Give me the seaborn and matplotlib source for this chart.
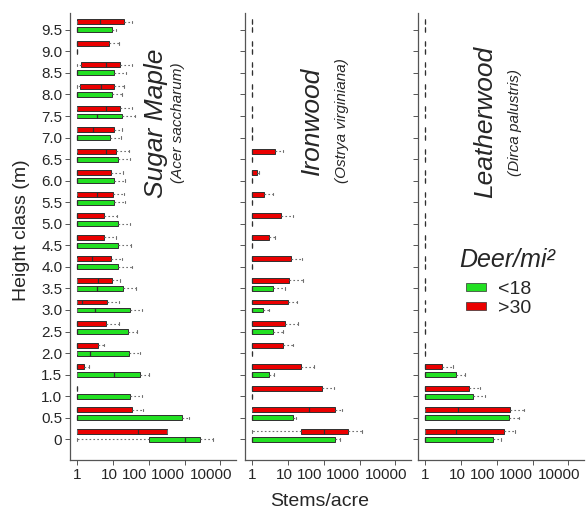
import pandas as pd
import numpy as np
import seaborn as sns
import matplotlib.pyplot as plt
from matplotlib.patches import Patch
from matplotlib.transforms import ScaledTranslation

# height classes (m), bottom to top
heights = [0.0, 0.5, 1.0, 1.5, 2.0, 2.5, 3.0, 3.5, 4.0, 4.5,
           5.0, 5.5, 6.0, 6.5, 7.0, 7.5, 8.0, 8.5, 9.0, 9.5]
height_labels = ["0", "0.5", "1.0", "1.5", "2.0", "2.5", "3.0", "3.5", "4.0", "4.5",
                 "5.0", "5.5", "6.0", "6.5", "7.0", "7.5", "8.0", "8.5", "9.0", "9.5"]

# per height class: (min, q1, median, q3, max) stems/acre, 1 = none
EMPTY = (1, 1, 1, 1, 1)

maple_low = [(1, 104, 1000, 2700, 6300), (1, 1, 1, 845, 1370), (1, 1, 1, 30, 65),
             (1, 1, 10.7, 59, 100), (1, 1, 2.4, 28, 56), (1, 1, 1, 27, 49),
             (1, 1, 3.3, 30, 65), (1, 1, 3.7, 19, 45), (1, 1, 1, 14, 34),
             (1, 1, 1, 14, 32), (1, 1, 1, 14, 30), (1, 1, 1, 11, 22),
             (1, 1, 1, 11, 22), (1, 1, 1, 14, 30), (1, 1, 1, 8.3, 17),
             (1, 1, 3.7, 18, 42), (1, 1, 1, 9.6, 18), (1, 1, 1, 11, 24),
             EMPTY, (1, 1, 1, 9.6, 12)]
maple_high = [(1, 1, 52, 335, 335), (1, 1, 1, 34, 72), EMPTY,
              (1, 1, 1, 1.6, 2.2), (1, 1, 1, 3.8, 5.9), (1, 1, 1, 6.5, 15),
              (1, 1, 1.4, 7.1, 15), (1, 1, 3.8, 9.4, 16), (1, 1, 2.7, 8.8, 18),
              (1, 1, 1, 5.9, 12.6), (1, 1, 1, 5.7, 13), (1, 1, 3.7, 10, 21),
              (1, 1, 1, 8.8, 20), (1, 1, 6.7, 12.6, 28), (1, 1, 2.8, 10.7, 18),
              (1, 1, 6.7, 15.6, 34), (1, 1.26, 4.8, 11.2, 21), (1, 1.35, 6.7, 15.6, 34),
              (1, 1, 1, 7.7, 14.7), (1, 1, 4.5, 21, 34)]

ironwood_low = [(1, 1, 1, 211, 280), (1, 1, 1, 14.5, 17), EMPTY,
                (1, 1, 1, 3.1, 4.3), EMPTY, (1, 1, 1, 3.8, 7.6),
                (1, 1, 1, 2.0, 3.1), (1, 1, 1, 4.0, 8.5)] + [EMPTY] * 12
ironwood_high = [(1, 24, 100, 470, 1160), (1, 1, 38, 211, 325), (1, 1, 1, 90, 190),
                 (1, 1, 1, 23, 55), (1, 1, 1, 7.3, 14), (1, 1, 1, 8.5, 19),
                 (1, 1, 1, 9.9, 18), (1, 1, 1, 10.6, 26.5), (1, 1, 1, 12.3, 25),
                 (1, 1, 1, 3.1, 4.5), (1, 1, 1, 6.45, 14.5), (1, 1, 1, 2.26, 3.85),
                 (1, 1, 1, 1.44, 1.57), (1, 1, 1, 4.5, 7.3)] + [EMPTY] * 6

leather_low = [(1, 1, 1, 78, 133), (1, 1, 1, 216, 430), (1, 1, 1, 22, 49),
               (1, 1, 1, 7.5, 12.8)] + [EMPTY] * 16
leather_high = [(1, 1, 7.2, 158, 330), (1, 1, 8.4, 236, 590), (1, 1, 1, 17.6, 34.5),
                (1, 1, 1, 3.0, 6.1)] + [EMPTY] * 16

species = [("Sugar Maple", "(Acer saccharum)", maple_low, maple_high),
           ("Ironwood", "(Ostrya virginiana)", ironwood_low, ironwood_high),
           ("Leatherwood", "(Dirca palustris)", leather_low, leather_high)]

x_ticks = [1, 10, 100, 1000, 10000]
x_ticklabels = ["1", "10", "100", "1000", "10000"]
# the x labels in the original sit a bit left of their ticks (pixels)
x_label_nudge = [0, -3, -14, -17, -9]

GREEN = "#22e022"
RED = "#ea0000"
RED_SHIFT = 0.185   # red box sits just above its class


def long_table(stats, shift=0.0):
    rows = []
    for h, box in zip(heights, stats):
        for v in box:
            rows.append((h + shift, v))
    return pd.DataFrame(rows, columns=["pos", "stems"])


sns.set_style("ticks")
plt.rcParams["font.family"] = ["Liberation Sans", "DejaVu Sans"]

W, H = 586, 512
fig = plt.figure(figsize=(W / 100, H / 100), dpi=100)

panel_left = [70, 245, 418]
ax_w, ax_bottom, ax_top = 166, 460, 13

box_kw = dict(orient="h", native_scale=True, log_scale=(True, False), whis=(0, 100),
              width=0.23, saturation=1, linecolor="#303030", linewidth=0.7,
              whiskerprops=dict(color="#707070", linestyle=(0, (1.5, 2.0)), linewidth=0.8),
              capprops=dict(color="#707070", linewidth=0.8),
              medianprops=dict(color="#303030", linewidth=0.9))

# text centres in pixels: (common name x, latin x, y)
label_pos = [(156, 178, 123), (312, 342, 121), (485, 515, 122)]

axes = []
for i, (common, latin, low, high) in enumerate(species):
    ax = fig.add_axes([panel_left[i] / W, 1 - ax_bottom / H, ax_w / W, (ax_bottom - ax_top) / H])
    axes.append(ax)

    sns.boxplot(data=long_table(low), x="stems", y="pos", color=GREEN, ax=ax, **box_kw)
    sns.boxplot(data=long_table(high, RED_SHIFT), x="stems", y="pos", color=RED, ax=ax, **box_kw)

    ax.set_xscale("log")
    ax.set_xlim(0.65, 27000)
    ax.set_ylim(-0.48, 9.89)
    ax.set_xticks(x_ticks)
    ax.set_xticklabels(x_ticklabels, fontsize=11)
    ax.minorticks_off()
    ax.set_yticks(heights)
    if i == 0:
        ax.set_yticklabels(height_labels, fontsize=11)
    else:
        ax.set_yticklabels([])
    ax.set_xlabel("")
    ax.set_ylabel("")
    ax.tick_params(length=3.5, width=0.7, color="#555555", pad=2)
    sns.despine(ax=ax)
    for s in ["left", "bottom"]:
        ax.spines[s].set_color("#555555")
        ax.spines[s].set_linewidth(0.9)

    cx, lx, cy = label_pos[i]
    fig.text(cx / W, 1 - cy / H, common, rotation=90, style="italic", fontsize=19,
             ha="center", va="center")
    fig.text(lx / W, 1 - cy / H, latin, rotation=90, style="italic", fontsize=11,
             ha="center", va="center")

    if i == 2:
        handles = [Patch(facecolor=GREEN, edgecolor="#303030", linewidth=0.5),
                   Patch(facecolor=RED, edgecolor="#303030", linewidth=0.5)]
        ax.legend(handles, ["<18", ">30"], fontsize=14, frameon=False, loc="center left",
                  bbox_to_anchor=(466 / W, 1 - 299 / H), bbox_transform=fig.transFigure,
                  handlelength=1.05, handleheight=0.25, handletextpad=0.6,
                  labelspacing=0.12, borderpad=0, borderaxespad=0)
        fig.text(507 / W, 1 - 260 / H, "Deer/mi²", style="italic", fontsize=18,
                 ha="center", va="center")

fig.text(22 / W, 1 - 230 / H, "Height class (m)", rotation=90, fontsize=14,
         ha="center", va="center")
fig.text(320 / W, 1 - 501 / H, "Stems/acre", fontsize=14, ha="center", va="center")

# shift the x tick labels last, after every tick setting is done
fig.canvas.draw()
for ax in axes:
    for tick, dx in zip(ax.xaxis.get_major_ticks(), x_label_nudge):
        lab = tick.label1
        lab.set_transform(lab.get_transform() + ScaledTranslation(dx / 100, 0, fig.dpi_scale_trans))

fig.savefig("out.png", dpi=100)
